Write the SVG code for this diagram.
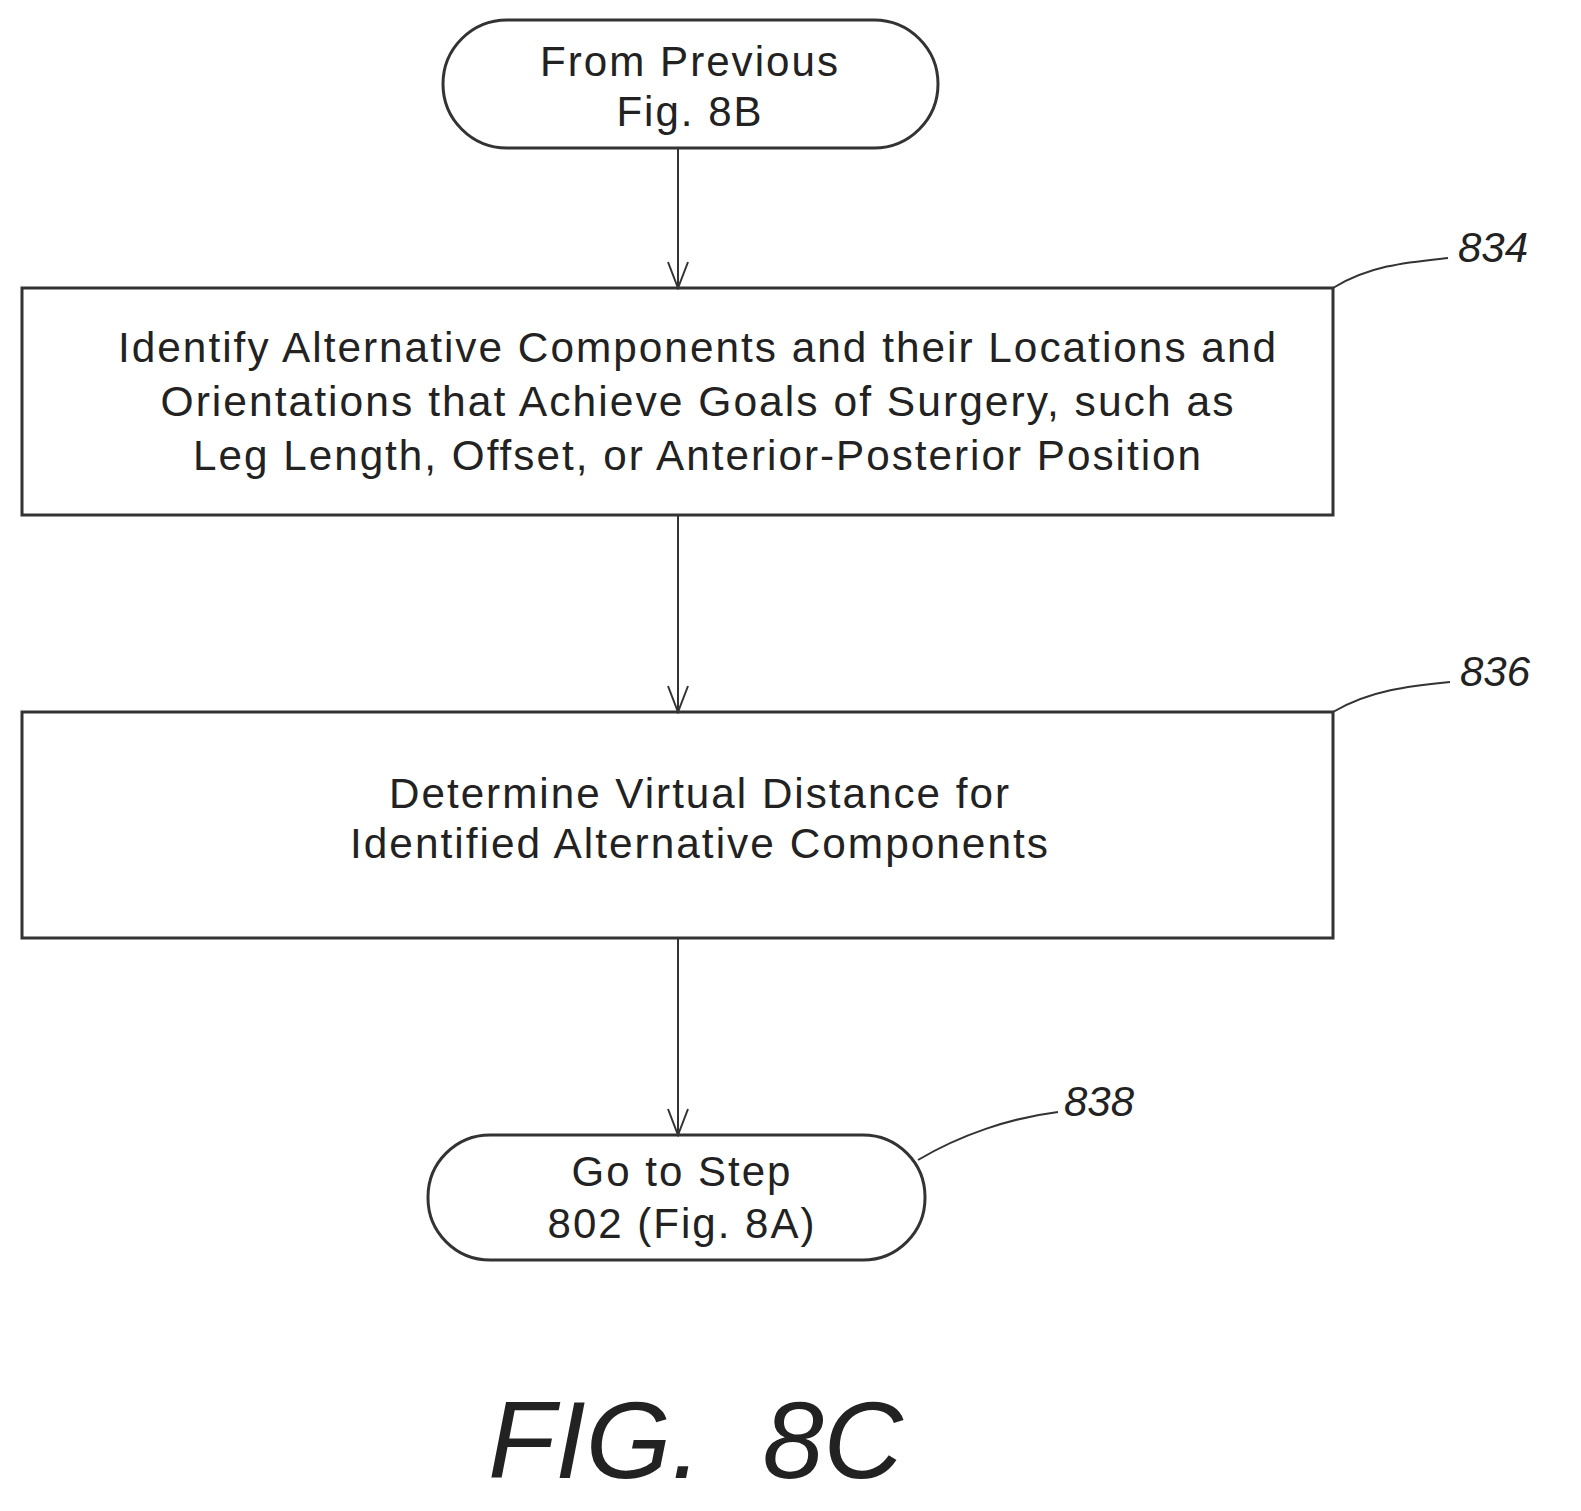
<svg xmlns="http://www.w3.org/2000/svg" width="1581" height="1511" viewBox="0 0 1581 1511">
<style>
.s{fill:none;stroke:#333;stroke-width:3}
.t{font-family:"Liberation Sans",Arial,sans-serif;font-size:42px;fill:#222;text-anchor:middle;letter-spacing:2px}
.l{font-family:"Liberation Sans",Arial,sans-serif;font-size:42px;font-style:italic;fill:#222}
.w{fill:none;stroke:#333;stroke-width:2}
</style>
<defs><marker id="a" markerWidth="30" markerHeight="24" refX="28" refY="12" orient="auto" markerUnits="userSpaceOnUse"><path d="M2,2 L28,12 L2,22" class="w"/></marker></defs>
<rect width="1581" height="1511" fill="#fff"/>
<g id="start"><rect class="s" x="443" y="20" width="495" height="128" rx="64"/><text class="t" x="690" y="76" textLength="300" lengthAdjust="spacingAndGlyphs">From Previous</text><text class="t" x="690" y="126">Fig. 8B</text></g>
<g id="n834"><rect class="s" x="22" y="288" width="1311" height="227"/><text class="t" x="698" y="362" textLength="1160" lengthAdjust="spacingAndGlyphs">Identify Alternative Components and their Locations and</text><text class="t" x="698" y="416" textLength="1075" lengthAdjust="spacingAndGlyphs">Orientations that Achieve Goals of Surgery, such as</text><text class="t" x="698" y="470" textLength="1010" lengthAdjust="spacingAndGlyphs">Leg Length, Offset, or Anterior-Posterior Position</text><path class="w" d="M1333,288 C1370,265 1410,262 1448,258"/><text class="l" x="1458" y="262">834</text></g>
<g id="n836"><rect class="s" x="22" y="712" width="1311" height="226"/><text class="t" x="700" y="808" textLength="622" lengthAdjust="spacingAndGlyphs">Determine Virtual Distance for</text><text class="t" x="700" y="858" textLength="700" lengthAdjust="spacingAndGlyphs">Identified Alternative Components</text><path class="w" d="M1333,712 C1370,690 1410,686 1450,682"/><text class="l" x="1460" y="686">836</text></g>
<g id="n838"><rect class="s" x="428" y="1135" width="497" height="125" rx="62"/><text class="t" x="682" y="1186">Go to Step</text><text class="t" x="682" y="1238">802 (Fig. 8A)</text><path class="w" d="M918,1160 C960,1135 1010,1118 1058,1112"/><text class="l" x="1064" y="1116">838</text></g>
<g id="connectors"><path class="w" d="M678,148 V288" marker-end="url(#a)"/><path class="w" d="M678,515 V712" marker-end="url(#a)"/><path class="w" d="M678,938 V1135" marker-end="url(#a)"/></g>
<text x="488" y="1478" style="font-family:'Liberation Sans',Arial,sans-serif;font-size:110px;font-style:italic;fill:#222;word-spacing:30px">FIG. 8C</text>
</svg>
